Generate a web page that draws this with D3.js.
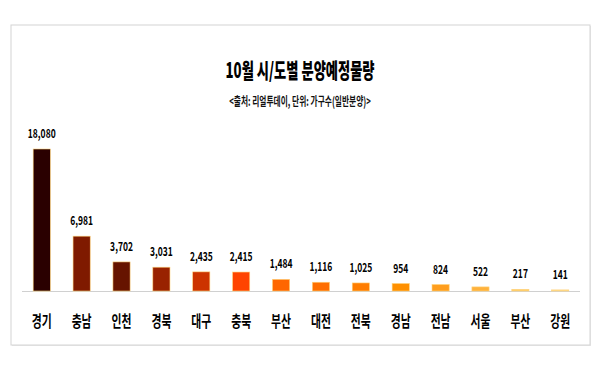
<!DOCTYPE html>
<html><head><meta charset="utf-8">
<script src="https://cdn.jsdelivr.net/npm/d3@7"></script>
<style>body{margin:0;background:#fff;}svg{display:block;}</style>
</head><body>
<svg id="c" width="600" height="366"></svg>
<script>
const categories = ["경기","충남","인천","경북","대구","충북","부산","대전","전북","경남","전남","서울","부산","강원"];
const values = [18080,6981,3702,3031,2435,2415,1484,1116,1025,954,824,522,217,141];
const colors = ["#2a0000","#7f1a00","#661400","#992200","#cc3300","#ff4400","#ff6600","#ff6e00","#ff7d00","#ff9000","#ff9e1e","#ffb23c","#ffcc66","#ffdc8a"];
const title = "10월 시/도별 분양예정물량";
const subtitle = "<출처: 리얼투데이, 단위: 가구수(일반분양)>";

const svg = d3.select("#c");
const FONT = "'Noto Sans CJK KR', sans-serif";

// frame
svg.append("rect").attr("x",12).attr("y",26).attr("width",579).attr("height",320)
  .attr("fill","#e8e8e8");
svg.append("rect").attr("x",11).attr("y",25).attr("width",579).attr("height",320)
  .attr("fill","#fff").attr("stroke","#d4d4d4").attr("stroke-width",1);

const baseY = 291;
const x = d3.scaleBand().domain(d3.range(categories.length)).range([22,580]).paddingInner(0.57).paddingOuter(0.28);
const y = d3.scaleLinear().domain([0,18080]).range([baseY,149]);

function condensed(sel, sx){
  sel.attr("transform", function(){
    const tx = +this.getAttribute("data-x"), ty = +this.getAttribute("data-y");
    return `translate(${tx},${ty}) scale(${sx},1)`;
  });
}

// title
svg.append("text").attr("data-x",300).attr("data-y",78)
  .attr("text-anchor","middle").attr("font-family",FONT).attr("font-weight","900")
  .attr("font-size",21).attr("fill","#000").text(title).call(condensed,0.63);
svg.append("text").attr("data-x",300).attr("data-y",106)
  .attr("text-anchor","middle").attr("font-family",FONT).attr("font-weight","bold")
  .attr("font-size",12.5).attr("fill","#111").text(subtitle).call(condensed,0.62);

// axis line
svg.append("line").attr("x1",22).attr("x2",580).attr("y1",baseY+0.5).attr("y2",baseY+0.5)
  .attr("stroke","#d0d0d0").attr("stroke-width",1);

const g = svg.append("g");
g.selectAll("rect.bar").data(values).join("rect").attr("class","bar")
  .attr("x",(d,i)=>x(i)).attr("width",x.bandwidth())
  .attr("y",d=>y(d)).attr("height",d=>baseY-y(d))
  .attr("fill",(d,i)=>colors[i]).attr("stroke","#ffd27a").attr("stroke-width",0.6);

g.selectAll("text.val").data(values).join("text").attr("class","val")
  .attr("data-x",(d,i)=>x(i)+x.bandwidth()/2).attr("data-y",d=>y(d)-11)
  .attr("text-anchor","middle").attr("font-family",FONT).attr("font-weight","bold")
  .attr("font-size",12.5).attr("fill","#000").text(d=>d3.format(",")(d)).call(condensed,0.68);

g.selectAll("text.cat").data(categories).join("text").attr("class","cat")
  .attr("data-x",(d,i)=>x(i)+x.bandwidth()/2).attr("data-y",327)
  .attr("text-anchor","middle").attr("font-family",FONT).attr("font-weight","bold")
  .attr("font-size",15.5).attr("fill","#000").text(d=>d).call(condensed,0.7);
</script>
</body></html>
